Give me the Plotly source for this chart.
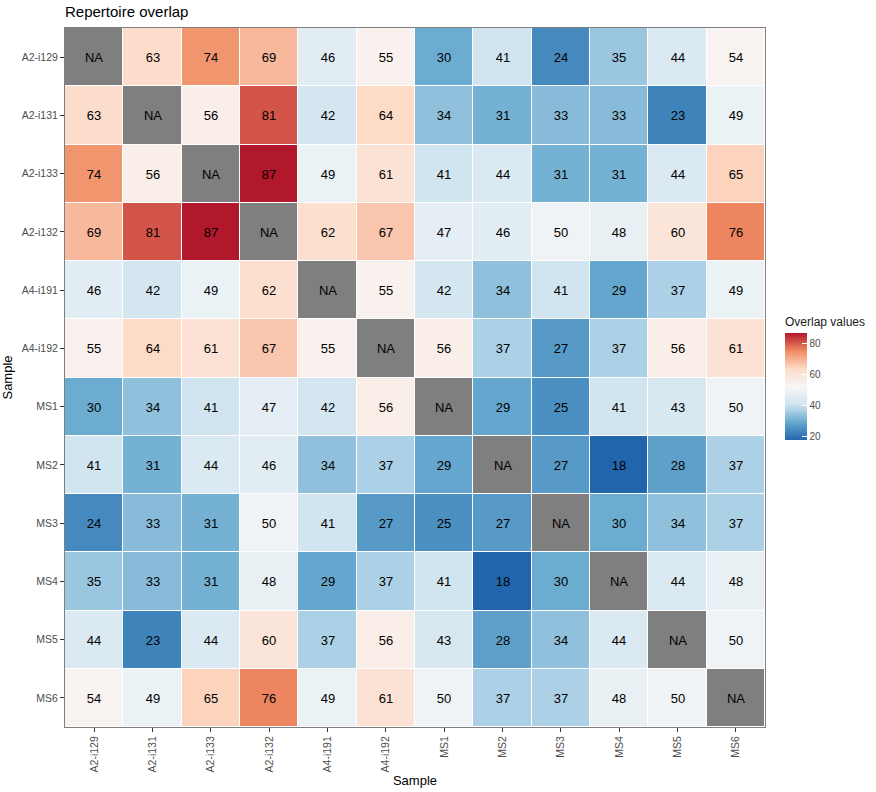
import numpy as np
import plotly.graph_objects as go

samples = ["A2-i129", "A2-i131", "A2-i133", "A2-i132", "A4-i191", "A4-i192",
           "MS1", "MS2", "MS3", "MS4", "MS5", "MS6"]

NA = None
row_A2_i129 = [NA, 63, 74, 69, 46, 55, 30, 41, 24, 35, 44, 54]
row_A2_i131 = [63, NA, 56, 81, 42, 64, 34, 31, 33, 33, 23, 49]
row_A2_i133 = [74, 56, NA, 87, 49, 61, 41, 44, 31, 31, 44, 65]
row_A2_i132 = [69, 81, 87, NA, 62, 67, 47, 46, 50, 48, 60, 76]
row_A4_i191 = [46, 42, 49, 62, NA, 55, 42, 34, 41, 29, 37, 49]
row_A4_i192 = [55, 64, 61, 67, 55, NA, 56, 37, 27, 37, 56, 61]
row_MS1 = [30, 34, 41, 47, 42, 56, NA, 29, 25, 41, 43, 50]
row_MS2 = [41, 31, 44, 46, 34, 37, 29, NA, 27, 18, 28, 37]
row_MS3 = [24, 33, 31, 50, 41, 27, 25, 27, NA, 30, 34, 37]
row_MS4 = [35, 33, 31, 48, 29, 37, 41, 18, 30, NA, 44, 48]
row_MS5 = [44, 23, 44, 60, 37, 56, 43, 28, 34, 44, NA, 50]
row_MS6 = [54, 49, 65, 76, 49, 61, 50, 37, 37, 48, 50, NA]

rows = [row_A2_i129, row_A2_i131, row_A2_i133, row_A2_i132, row_A4_i191, row_A4_i192,
        row_MS1, row_MS2, row_MS3, row_MS4, row_MS5, row_MS6]

z = np.array([[np.nan if v is None else v for v in r] for r in rows], dtype=float)
na_mask = np.where(np.isnan(z), 1.0, np.nan)
na_text = [["NA" if v is None else "" for v in r] for r in rows]
val_text = [["" if v is None else str(v) for v in r] for r in rows]

cs = [[0.0, "#2166ac"], [1/6, "#67a9cf"], [2/6, "#d1e5f0"], [3/6, "#f7f7f7"],
      [4/6, "#fddbc7"], [5/6, "#ef8a62"], [1.0, "#b2182b"]]

FONT = "Liberation Sans, Arial, sans-serif"

W, H = 876, 792
ML, MT = 65, 28
PW, PH = 700, 699
MR = W - ML - PW
MB = H - MT - PH

fig = go.Figure()
fig.add_trace(go.Heatmap(
    z=z, x=samples, y=samples, colorscale=cs, zmin=18, zmax=87,
    xgap=1, ygap=1, text=val_text, texttemplate="%{text}",
    textfont=dict(size=13, color="black", family=FONT),
    hoverongaps=False,
    colorbar=dict(
        title=dict(text="Overlap values", side="top", font=dict(size=12, color="#1a1a1a", family=FONT)),
        thickness=22, thicknessmode="pixels", len=126, lenmode="pixels",
        x=1 + 20 / PW, xanchor="left", xpad=0, y=(727 - 377) / PH, yanchor="middle", ypad=0,
        tickvals=[20, 40, 60, 80], ticks="inside", tickcolor="white", ticklen=5,
        tickfont=dict(size=10, color="#4d4d4d", family=FONT), outlinewidth=0,
    ),
))
fig.add_trace(go.Heatmap(
    z=na_mask, x=samples, y=samples,
    colorscale=[[0, "#7f7f7f"], [1, "#7f7f7f"]], showscale=False,
    xgap=1, ygap=1, text=na_text, texttemplate="%{text}",
    textfont=dict(size=13, color="black", family=FONT), hoverongaps=False,
))

fig.update_layout(
    width=W, height=H,
    margin=dict(l=ML, r=MR, t=MT, b=MB, autoexpand=False),
    plot_bgcolor="white", paper_bgcolor="white",
    font=dict(family=FONT),
    title=dict(text="Repertoire overlap", x=ML / W, xanchor="left", y=1 - 12 / H, yanchor="middle",
               font=dict(size=15, color="black", family=FONT)),
)
fig.update_xaxes(
    title=dict(text="Sample", font=dict(size=13, color="black", family=FONT), standoff=4),
    tickangle=-90, tickfont=dict(size=10.5, color="#4d4d4d", family=FONT),
    ticks="outside", ticklen=4, tickcolor="#333333", automargin=False,
    showline=True, linecolor="#7f7f7f", mirror=True, showgrid=False, zeroline=False,
)
fig.update_yaxes(
    title=dict(text="Sample", font=dict(size=13, color="black", family=FONT), standoff=6),
    autorange="reversed", tickfont=dict(size=10.5, color="#4d4d4d", family=FONT),
    ticks="outside", ticklen=4, tickcolor="#333333", automargin=False,
    showline=True, linecolor="#7f7f7f", mirror=True, showgrid=False, zeroline=False,
)

fig.write_html("out.html", config={"displayModeBar": False},
               post_script="document.body.style.margin='0px';")
